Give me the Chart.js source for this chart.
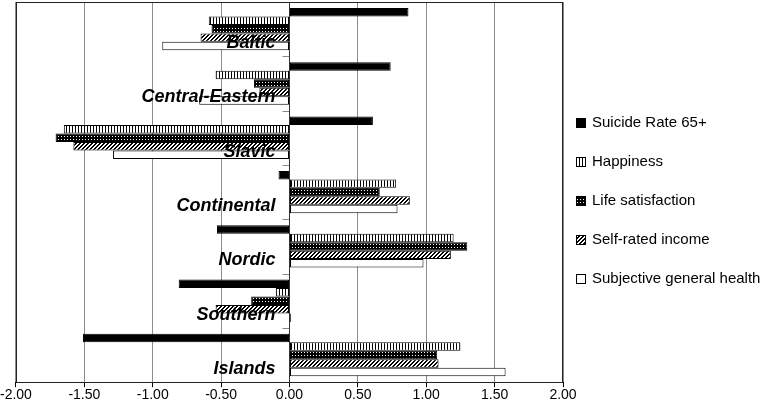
<!doctype html>
<html lang="en">
	<head>
		<title>Regional deviations</title>
		<script src="https://cdn.jsdelivr.net/npm/chart.js@4.4.0/dist/chart.umd.min.js"></script>
		<style>
			html, body { margin:0; padding:0; background:#fff; }
			#wrap { width:765px; height:410px; }
		</style>
	</head>
	<body>
		<div id="wrap"><canvas id="myChart"></canvas></div>
	<script>
		// values (standardised scores)
		var categories = ['Baltic', 'Central-Eastern', 'Slavic', 'Continental', 'Nordic', 'Southern', 'Islands'];
		var seriesNames = ['Suicide Rate 65+', 'Happiness', 'Life satisfaction', 'Self-rated income', 'Subjective general health'];
		var suicide   = [0.87, 0.74, 0.61, -0.08, -0.53, -0.81, -1.51];
		var happiness = [-0.59, -0.54, -1.65, 0.78, 1.20, -0.10, 1.25];
		var lifeSat   = [-0.57, -0.26, -1.71, 0.66, 1.30, -0.28, 1.08];
		var income    = [-0.65, -0.22, -1.58, 0.88, 1.18, -0.54, 1.09];
		var health    = [-0.93, -0.66, -1.29, 0.79, 0.98, 0.01, 1.58];
		var xTicks    = [-2, -1.5, -1, -0.5, 0, 0.5, 1, 1.5, 2];

		var FONT = '"Liberation Sans", Arial, Helvetica, sans-serif';

		// small fill patterns like the old office hatches
		function makePattern(w, h, draw) {
			var c = document.createElement('canvas');
			c.width = w; c.height = h;
			var g = c.getContext('2d');
			draw(g);
			return document.getElementById('myChart').getContext('2d').createPattern(c, 'repeat');
		}
		var pVertical = makePattern(3, 3, function(g) {
			g.fillStyle = '#fff'; g.fillRect(0, 0, 3, 3);
			g.fillStyle = '#000'; g.fillRect(0, 0, 1, 3);
		});
		var pDots = makePattern(3, 3, function(g) {
			g.fillStyle = '#000'; g.fillRect(0, 0, 3, 3);
			g.fillStyle = '#fff'; g.fillRect(1, 1, 1, 1);
		});
		var pDiag = makePattern(4, 4, function(g) {
			g.fillStyle = '#fff'; g.fillRect(0, 0, 4, 4);
			g.fillStyle = '#000';
			g.fillRect(3, 0, 1, 1); g.fillRect(2, 1, 1, 1); g.fillRect(1, 2, 1, 1); g.fillRect(0, 3, 1, 1);
			g.fillRect(2, 0, 1, 1); g.fillRect(1, 1, 1, 1); g.fillRect(0, 2, 1, 1); g.fillRect(3, 3, 1, 1);
		});

		var fills = ['#000', pVertical, pDots, pDiag, '#fff'];
		var values = [suicide, happiness, lifeSat, income, health];

		var datasets = [];
		for (var i = 0; i < values.length; i++) {
			datasets.push({
				label: seriesNames[i],
				data: values[i],
				backgroundColor: fills[i],
				borderColor: '#000',
				borderWidth: 1,
				borderSkipped: false,
				categoryPercentage: 0.78,
				barPercentage: 1.0
			});
		}

		// category names sit on the zero line, a bit below the group centre
		var decorations = {
			id: 'decorations',
			afterDatasetsDraw: function(chart) {
				var ctx = chart.ctx;
				var xs = chart.scales.x, ys = chart.scales.y;
				var area = chart.chartArea;
				var x0 = xs.getPixelForValue(0);
				ctx.save();

				// zero axis and its ticks between groups
				ctx.strokeStyle = '#888';
				ctx.lineWidth = 1;
				for (var i = 0; i <= categories.length; i++) {
					var y = Math.round(area.top + (area.bottom - area.top) * i / categories.length) + 0.5;
					ctx.beginPath(); ctx.moveTo(x0 - 7, y); ctx.lineTo(x0, y); ctx.stroke();
				}
				ctx.strokeStyle = '#333';
				ctx.beginPath(); ctx.moveTo(Math.round(x0) + 0.5, area.top); ctx.lineTo(Math.round(x0) + 0.5, area.bottom); ctx.stroke();

				ctx.font = 'italic bold 18px ' + FONT;
				ctx.fillStyle = '#000';
				ctx.textAlign = 'right';
				ctx.textBaseline = 'middle';
				categories.forEach(function(c, k) {
					ctx.fillText(c, x0 - 14, ys.getPixelForValue(k) + 14);
				});

				// plot frame
				ctx.strokeStyle = '#222';
				ctx.strokeRect(Math.round(area.left) + 0.5, Math.round(area.top) + 0.5,
					Math.round(area.right - area.left) - 1, Math.round(area.bottom - area.top));
				ctx.restore();
			},
			afterDraw: function(chart) {
				// legend on the right
				var ctx = chart.ctx;
				ctx.save();
				ctx.font = '15px ' + FONT;
				ctx.textAlign = 'left';
				ctx.textBaseline = 'middle';
				chart.data.datasets.forEach(function(ds, k) {
					var cy = 123 + k * 39;
					ctx.fillStyle = ds.backgroundColor;
					ctx.fillRect(576, cy - 5, 10, 10);
					ctx.strokeStyle = '#000';
					ctx.lineWidth = 1;
					ctx.strokeRect(576.5, cy - 4.5, 9, 9);
					ctx.fillStyle = '#000';
					ctx.fillText(ds.label, 592, cy);
				});
				ctx.restore();
			}
		};

		var myChart = new Chart(document.getElementById('myChart'), {
			type: 'bar',
			data: { labels: categories, datasets: datasets },
			options: {
				indexAxis: 'y',
				responsive: true,
				maintainAspectRatio: false,
				animation: false,
				layout: { padding: { left: 15, top: 2, right: 202, bottom: 6 } },
				plugins: {
					legend: { display: false },
					tooltip: { enabled: false }
				},
				scales: {
					x: {
						min: -2,
						max: 2,
						afterBuildTicks: function(scale) {
							scale.ticks = xTicks.map(function(v) { return { value: v }; });
						},
						ticks: {
							padding: 0,
							color: '#000',
							font: { family: FONT, size: 14 },
							callback: function(v) { return Number(v).toFixed(2); }
						},
						grid: {
							color: '#8c8c8c',
							tickColor: '#000',
							tickLength: 5,
							lineWidth: 1
						},
						border: { color: '#000' }
					},
					y: {
						display: false,
						offset: true
					}
				}
			},
			plugins: [decorations]
		});
	</script>
	</body>
</html>
